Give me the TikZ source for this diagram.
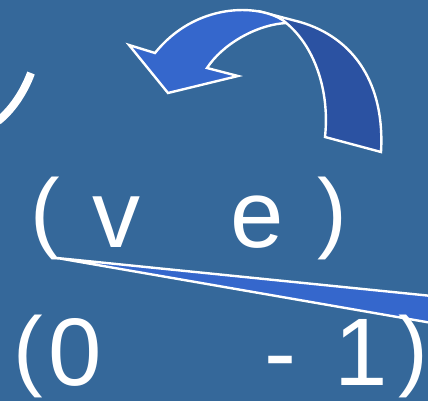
\documentclass[tikz,border=0pt]{standalone}
\usepackage{fontspec}
\setmainfont{Liberation Sans}
\definecolor{bgblue}{RGB}{53,104,154}
\definecolor{lightarr}{RGB}{53,103,204}
\definecolor{darkarr}{RGB}{43,82,162}
\begin{document}
\begin{tikzpicture}[x=1pt,y=-1pt,
  big/.style={text=white,inner sep=0pt,anchor=base,font=\fontsize{96}{96}\selectfont},
  paren/.style={text=white,inner sep=0pt,anchor=base,font=\fontsize{89}{89}\selectfont},
  outline/.style={draw=white,line width=2.4pt,line join=miter}]
\fill[bgblue] (0,0) rectangle (428,401);
\useasboundingbox (0,0) rectangle (428,401);
% partial stroke top-left
\draw[white,line width=8pt] (31,73) .. controls (24,92) and (12,110) .. (-2,121);
% dark back band of curved arrow
\filldraw[fill=darkarr,outline] (258,11) -- (300,22) .. controls (355,38) and (385,85) .. (381,152)
  -- (325,137) .. controls (330,90) and (314,45) .. (285,22) -- cycle;
% light front of curved arrow
\filldraw[fill=lightarr,outline] (284,21) .. controls (258,3) and (195,3) .. (155,53)
  -- (129,45) -- (168,93) -- (238,76) -- (207,68)
  .. controls (222,45) and (255,25) .. (286,23) -- cycle;
% wedge
\filldraw[fill=lightarr,outline] (57,258) -- (432,296) -- (432,323) -- cycle;
% row 1
\node[paren] (lp1) at (45,241) {(};
\node[big] (v) at (116.5,247) {v};
\node[big] (e) at (257.5,247) {e};
\node[paren] (rp1) at (332,241) {)};
% row 2
\node[paren] (lp2) at (28,379) {(};
\node[big] (zero) at (75.5,385) {0};
\node[big] (minus) at (280,385) {-};
\node[big] (one) at (361,385) {1};
\node[paren] (rp2) at (413,379) {)};
\end{tikzpicture}
\end{document}
